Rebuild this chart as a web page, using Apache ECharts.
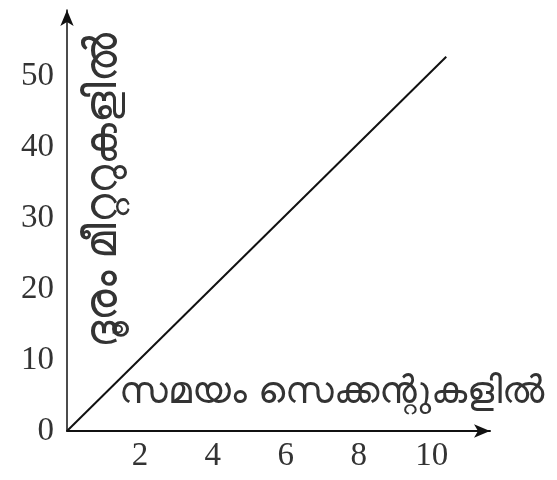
<!DOCTYPE html>
<html>
<head>
<meta charset="utf-8">
<script src="https://cdn.jsdelivr.net/npm/echarts@6/dist/echarts.min.js"></script>
<style>
  html, body { margin: 0; padding: 0; background: #fff; }
  #chart { width: 557px; height: 480px; }
</style>
</head>
<body>
<div id="chart"></div>
<script>
// time in seconds vs distance in metres
const timeSec = [0, 10.4];
const distM = [0, 52.8];
const xTicks = [2, 4, 6, 8, 10];
const yTicks = [0, 10, 20, 30, 40, 50];
const xName = 'സമയം സെക്കന്റുകളിൽ';
const yName = 'ദൂരം മീറ്ററുകളിൽ';

const chart = echarts.init(document.getElementById('chart'));
const serif = '"Liberation Serif", "DejaVu Serif", serif';

chart.setOption({
  animation: false,
  grid: { left: 67, right: 67, top: 10, bottom: 49 },
  xAxis: {
    type: 'value',
    min: 0,
    max: 11.6,
    splitLine: { show: false },
    axisLine: {
      lineStyle: { color: '#111', width: 2 },
      symbol: ['none', 'arrow'],
      symbolSize: [10, 16]
    },
    axisTick: { show: false },
    axisLabel: {
      customValues: xTicks,
      color: '#333',
      fontFamily: serif,
      fontSize: 33,
      margin: 9
    }
  },
  yAxis: {
    type: 'value',
    min: 0,
    max: 59.4,
    splitLine: { show: false },
    axisLine: {
      lineStyle: { color: '#111', width: 1.5 },
      symbol: ['none', 'arrow'],
      symbolSize: [10, 16]
    },
    axisTick: { show: false },
    axisLabel: {
      customValues: yTicks,
      color: '#333',
      fontFamily: serif,
      fontSize: 33,
      margin: 13
    }
  },
  graphic: [
    {
      type: 'text',
      x: 119,
      y: 393,
      style: {
        text: xName, fontSize: 38, fill: '#333', fontFamily: 'sans-serif',
        align: 'left', verticalAlign: 'middle'
      }
    },
    {
      type: 'text',
      x: 104,
      y: 348,
      rotation: Math.PI / 2,
      style: {
        text: yName, fontSize: 44, fill: '#333', fontFamily: 'sans-serif',
        align: 'left', verticalAlign: 'middle'
      }
    }
  ],
  series: [{
    type: 'line',
    data: timeSec.map((t, i) => [t, distM[i]]),
    showSymbol: false,
    lineStyle: { color: '#111', width: 2 }
  }]
});
</script>
</body>
</html>
